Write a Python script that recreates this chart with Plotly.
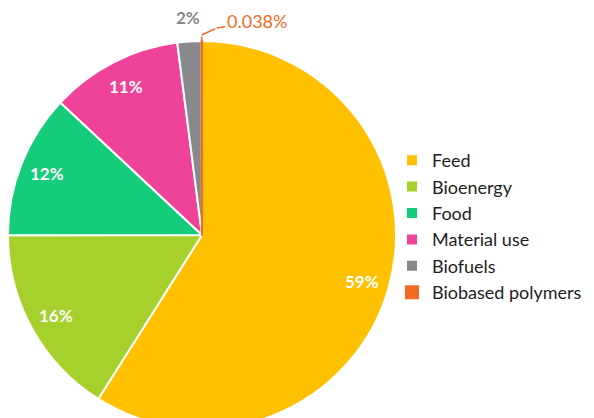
import math
import plotly.graph_objects as go

# shares of biomass use (%)
categories = ["Feed", "Bioenergy", "Food", "Material use", "Biofuels", "Biobased polymers"]
shares = [59, 16, 12, 11, 2, 0.038]
colors = ["#FFC000", "#A6D02B", "#15CC7A", "#EF4399", "#88888D", "#F26B24"]

# the page body has an 8px default margin, so work in window pixels and shift
OFF = 8
W, H = 594, 430
R = 194                # pie radius, px
cxw, cyw = 202, 235    # pie centre in window px (pie runs past the bottom edge)
T = cyw - OFF - R
B = H - T - 2 * R


def to_paper(px, py):
    return (px - OFF) / W, 1 - (py - OFF - T) / (2 * R)


def slice_point(mid_frac, r):
    a = 2 * math.pi * mid_frac
    return cxw + r * math.sin(a), cyw - r * math.cos(a)


fig = go.Figure()
fig.add_trace(go.Pie(
    labels=categories,
    values=shares,
    textinfo="none",
    sort=False,
    direction="clockwise",
    rotation=0,
    marker=dict(colors=colors,
                line=dict(color=["white"] * 5 + [colors[5]], width=2)),
    domain=dict(x=[(cxw - OFF - R) / W, (cxw - OFF + R) / W], y=[0, 1]),
    hoverinfo="skip",
))

# percentage labels placed along each slice's mid angle
total = sum(shares)
cum = 0
annotations = []
centred = dict(xref="paper", yref="paper", xanchor="center", yanchor="middle")
for i, v in enumerate(shares):
    mid = (cum + v / 2) / total
    cum += v
    txt = f"{v:g}%"
    if i < 4:
        x, y = to_paper(*slice_point(mid, 0.86 * R))
        annotations.append(dict(x=x, y=y, showarrow=False, text=f"<b>{txt}</b>",
                                font=dict(family="Lato", size=17, color="white"),
                                **centred))
    elif i == 4:
        x, y = to_paper(*slice_point(mid, R + 24))
        annotations.append(dict(x=x, y=y, showarrow=False, text=f"<b>{txt}</b>",
                                font=dict(family="Lato", size=17, color=colors[i]),
                                **centred))
    else:
        # elbow leader line: short rise off the rim, then out to the label
        ex, ey = slice_point(mid, R)
        lead = dict(showarrow=True, arrowhead=0, arrowwidth=1.5,
                    arrowcolor=colors[i], standoff=0, **centred)
        x0, y0 = to_paper(ex, ey)
        annotations.append(dict(x=x0, y=y0, ax=0, ay=-6, text="", **lead))
        x1, y1 = to_paper(ex, ey - 6)
        annotations.append(dict(x=x1, y=y1, ax=15, ay=-7, text="", **lead))
        x2, y2 = to_paper(ex + 15, ey - 13)
        annotations.append(dict(x=x2, y=y2, ax=40, ay=-7, text=txt,
                                font=dict(family="Lato", size=18, color=colors[i]),
                                **lead))

lx, ly = to_paper(392, 142)
fig.update_layout(
    width=W, height=H,
    margin=dict(l=0, r=0, t=T, b=B, autoexpand=False),
    paper_bgcolor="white",
    font=dict(family="Lato", color="#1e1e1e"),
    showlegend=True,
    annotations=annotations,
    legend=dict(
        x=lx, y=ly, xanchor="left", yanchor="top",
        bgcolor="rgba(0,0,0,0)",
        font=dict(family="Lato", size=18, color="#1e1e1e"),
        itemwidth=30,
    ),
)

fig.write_html("out.html")
